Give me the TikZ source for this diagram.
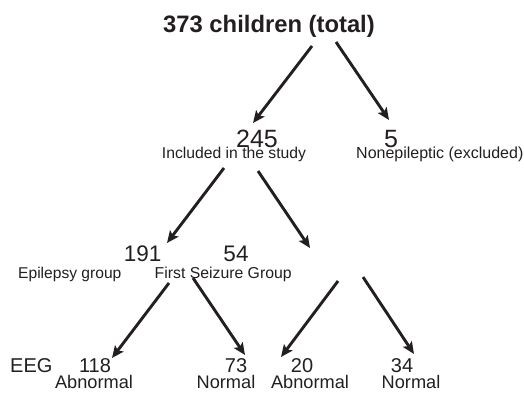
\documentclass[tikz,border=0pt]{standalone}
\usepackage{fontspec}
\setmainfont{Liberation Sans}
\usetikzlibrary{arrows.meta}
\definecolor{ink}{HTML}{231F20}
\tikzset{
  arr/.style={draw=ink, line width=2.9pt, -{Stealth[length=12pt,width=10.5pt,inset=2.5pt]}},
  lbl/.style={inner sep=0pt, anchor=base, text=ink},
  lbll/.style={inner sep=0pt, anchor=base west, text=ink},
}
\begin{document}
\begin{tikzpicture}[x=1pt,y=-1pt]
\useasboundingbox (0,0) rectangle (524,393);
% texts
\node[lbl, font=\fontsize{23.8}{26}\bfseries\selectfont] (title) at (269,33) {373 children (total)};
\node[lbl, font=\fontsize{25}{28}\selectfont] (n245) at (257,147) {245};
\node[lbl, font=\fontsize{15.7}{18}\selectfont] (inc) at (234,158) {Included in the study};
\node[lbl, font=\fontsize{25}{28}\selectfont] (n5) at (391,147) {5};
\node[lbll, font=\fontsize{16}{18}\selectfont] (nonep) at (356,158) {Nonepileptic (excluded)};
\node[lbl, font=\fontsize{22.5}{25}\selectfont] (n191) at (142.7,261) {191};
\node[lbl, font=\fontsize{22.5}{25}\selectfont] (n54) at (236,261) {54};
\node[lbll, font=\fontsize{15.6}{18}\selectfont] (epi) at (18,278) {Epilepsy group};
\node[lbll, font=\fontsize{15.8}{18}\selectfont] (fsg) at (154.5,278) {First Seizure Group};
\node[lbll, font=\fontsize{20}{22}\selectfont] (eeg) at (10,372) {EEG};
\node[lbl, font=\fontsize{20}{22}\selectfont] (n118) at (95,372) {118};
\node[lbl, font=\fontsize{20}{22}\selectfont] (n73) at (236,372) {73};
\node[lbl, font=\fontsize{20}{22}\selectfont] (n20) at (302,372) {20};
\node[lbl, font=\fontsize{20}{22}\selectfont] (n34) at (402,372) {34};
\node[lbl, font=\fontsize{18.2}{20}\selectfont] (ab1) at (94,388) {Abnormal};
\node[lbl, font=\fontsize{18.2}{20}\selectfont] (no1) at (226,388) {Normal};
\node[lbl, font=\fontsize{18.2}{20}\selectfont] (ab2) at (310,388) {Abnormal};
\node[lbl, font=\fontsize{18.2}{20}\selectfont] (no2) at (411,388) {Normal};
% arrow ends
\coordinate (s1) at (312,46);  \coordinate (t1) at (253,123);
\coordinate (s2) at (336,42);  \coordinate (t2) at (389,120);
\coordinate (s3) at (224,168); \coordinate (t3) at (167,243);
\coordinate (s4) at (258,171); \coordinate (t4) at (310,248);
\coordinate (s5) at (169,283); \coordinate (t5) at (112,358);
\coordinate (s6) at (193,278); \coordinate (t6) at (245,355);
\coordinate (s7) at (338,281); \coordinate (t7) at (281,357);
\coordinate (s8) at (363,277); \coordinate (t8) at (414,354);
\draw[arr] (s1) -- (t1);
\draw[arr] (s2) -- (t2);
\draw[arr] (s3) -- (t3);
\draw[arr] (s4) -- (t4);
\draw[arr] (s5) -- (t5);
\draw[arr] (s6) -- (t6);
\draw[arr] (s7) -- (t7);
\draw[arr] (s8) -- (t8);
\end{tikzpicture}
\end{document}
